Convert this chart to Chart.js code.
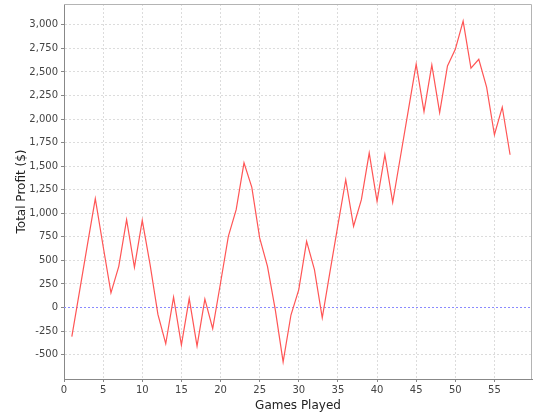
<!DOCTYPE html>
<html>
<head>
<meta charset="utf-8">
<script src="https://cdn.jsdelivr.net/npm/chart.js@4/dist/chart.umd.min.js"></script>
<style>
  body { margin: 0; background: #fff; }
</style>
</head>
<body>
<canvas id="chart" width="540" height="420"></canvas>
<script>
const games = [1, 2, 3, 4, 5, 6, 7, 8, 9, 10, 11, 12, 13, 14, 15, 16, 17, 18, 19, 20,
  21, 22, 23, 24, 25, 26, 27, 28, 29, 30, 31, 32, 33, 34, 35, 36, 37, 38, 39, 40,
  41, 42, 43, 44, 45, 46, 47, 48, 49, 50, 51, 52, 53, 54, 55, 56, 57];

const profit = [-310, 180, 670, 1155, 650, 155, 437, 932, 427, 925,
  455, -74, -385, 109, -400, 95, -410, 88, -225, 260,
  755, 1038, 1535, 1275, 738, 437, -25, -578, -80, 190,
  702, 402, -109, 385, 875, 1356, 862, 1144, 1639, 1126,
  1621, 1116, 1605, 2095, 2583, 2080, 2574, 2069, 2563, 2740,
  3040, 2539, 2634, 2338, 1833, 2126, 1621];

const yTicks = [-500, -250, 0, 250, 500, 750, 1000, 1250, 1500, 1750, 2000, 2250, 2500, 2750, 3000];
const xTicks = [0, 5, 10, 15, 20, 25, 30, 35, 40, 45, 50, 55];

const points = games.map((g, i) => ({ x: g, y: profit[i] }));

// plot box top/right edges and the blue zero marker
const outline = {
  id: 'outline',
  beforeDatasetsDraw(c) {
    const a = c.chartArea;
    const ctx = c.ctx;
    ctx.save();
    ctx.strokeStyle = '#b4b4b4';
    ctx.lineWidth = 1;
    ctx.beginPath();
    ctx.moveTo(a.left, a.top + 0.5);
    ctx.lineTo(a.right - 0.5, a.top + 0.5);
    ctx.lineTo(a.right - 0.5, a.bottom);
    ctx.stroke();

    const y0 = Math.round(c.scales.y.getPixelForValue(0)) + 0.5;
    ctx.strokeStyle = '#8a8aff';
    ctx.setLineDash([2, 2]);
    ctx.beginPath();
    ctx.moveTo(a.left, y0);
    ctx.lineTo(a.right, y0);
    ctx.stroke();
    ctx.restore();
  }
};

const tickFont = { family: 'DejaVu Sans', size: 10 };
const titleFont = { family: 'DejaVu Sans', size: 12 };

new Chart(document.querySelector('#chart').getContext('2d'), {
  type: 'line',
  data: {
    datasets: [{
      label: 'Total Profit',
      data: points,
      borderColor: '#ff5555',
      borderWidth: 1.2,
      pointRadius: 0,
      tension: 0,
      fill: false
    }]
  },
  options: {
    responsive: false,
    animation: false,
    layout: { padding: { top: 4, right: 8, left: 0, bottom: 0 } },
    plugins: { legend: { display: false }, tooltip: { enabled: false } },
    scales: {
      x: {
        type: 'linear',
        min: 0,
        max: 59.8,
        afterBuildTicks: s => { s.ticks = xTicks.map(v => ({ value: v })); },
        afterFit: s => { s.height = 41; s.paddingLeft = 0; s.paddingRight = 0; },
        ticks: { font: tickFont, color: '#444', padding: 2, maxRotation: 0 },
        grid: { color: '#dcdcdc', tickColor: '#888', tickLength: 3, tickBorderDash: [] },
        border: { color: '#888', dash: [2, 2] },
        title: { display: true, text: 'Games Played', font: titleFont, color: '#222', padding: { top: 0, bottom: 7 } }
      },
      y: {
        min: -759,
        max: 3221,
        afterBuildTicks: s => { s.ticks = yTicks.map(v => ({ value: v })); },
        afterFit: s => { s.width = 64; s.paddingTop = 0; s.paddingBottom = 0; },
        ticks: { font: tickFont, color: '#444', padding: 3 },
        grid: {
          color: c => (c.tick && c.tick.value === 0 ? 'rgba(0,0,0,0)' : '#dcdcdc'),
          tickColor: '#888',
          tickLength: 3,
          tickBorderDash: []
        },
        border: { color: '#888', dash: [2, 2] },
        title: { display: true, text: 'Total Profit ($)', font: titleFont, color: '#222', padding: { top: 15, bottom: 0 } }
      }
    }
  },
  plugins: [outline]
});
</script>
</body>
</html>
